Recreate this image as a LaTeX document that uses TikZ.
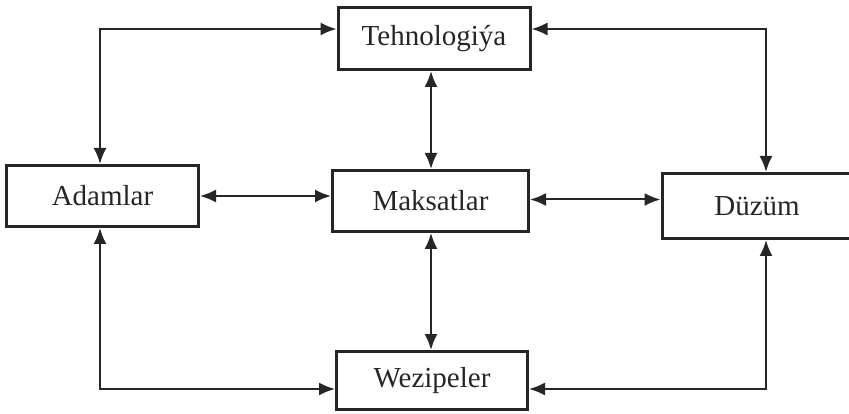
\documentclass[tikz,border=0pt]{standalone}
\usepackage{fontspec}
\setmainfont{Liberation Serif}
\usetikzlibrary{arrows.meta}
\begin{document}
\begin{tikzpicture}[x=1pt,y=-1pt,
  box/.style={draw=black!85, line width=3pt, rectangle, inner sep=0pt, font=\fontsize{29}{31}\selectfont, text=black!85},
  arr/.style={draw=black!85, line width=2pt, {Latex[length=16pt,width=13pt]}-{Latex[length=16pt,width=13pt]}}]
\useasboundingbox (0,0) rectangle (849,414);
\node[box, minimum width=192pt, minimum height=62pt] (T) at (434,38.5) {Tehnologiýa};
\node[box, minimum width=192pt, minimum height=61pt] (A) at (102.5,196) {Adamlar};
\node[box, minimum width=196pt, minimum height=61pt] (M) at (430.5,201) {Maksatlar};
\node[box, minimum width=190pt, minimum height=65pt] (D) at (757,206) {Düzüm};
\node[box, minimum width=191pt, minimum height=58pt] (W) at (432,380.5) {Wezipeler};
\coordinate (xl) at (100,0);
\coordinate (xr) at (766,0);
\coordinate (yt) at (0,29);
\coordinate (yb) at (0,389);
\coordinate (ya) at (0,196);
\coordinate (yd) at (0,199.5);
\coordinate (xm) at (431,0);
\draw[arr] (A.north -| xl) |- (T.west |- yt);
\draw[arr] (T.east |- yt) -| (D.north -| xr);
\draw[arr] (T.south -| xm) -- (M.north -| xm);
\draw[arr] (A.east |- ya) -- (M.west |- ya);
\draw[arr] (M.east |- yd) -- (D.west |- yd);
\draw[arr] (M.south -| xm) -- (W.north -| xm);
\draw[arr] (A.south -| xl) |- (W.west |- yb);
\draw[arr] (W.east |- yb) -| (D.south -| xr);
\end{tikzpicture}
\end{document}
